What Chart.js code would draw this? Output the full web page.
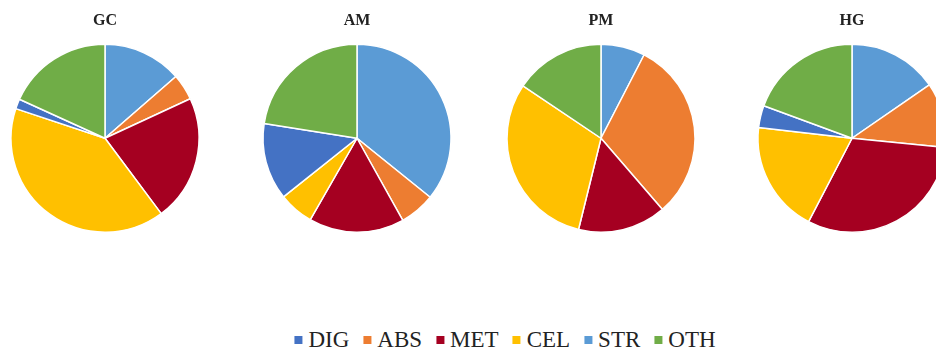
<!DOCTYPE html>
<html>
<head>
<meta charset="utf-8">
<script src="https://cdn.jsdelivr.net/npm/chart.js@4/dist/chart.umd.min.js"></script>
<style>
  html, body { margin: 0; padding: 0; background: #fff; }
  body { width: 936px; height: 351px; position: relative; overflow: hidden; }
  canvas.pie { position: absolute; top: 0; }
  #legend {
    position: absolute; top: 328px; left: 505px; transform: translateX(-50%);
    display: flex; align-items: center; white-space: nowrap;
    font-family: "Liberation Serif", "Times New Roman", serif; font-size: 23px; line-height: 23px; color: #222;
  }
  #legend .item { display: flex; align-items: center; margin-right: 14px; }
  #legend .item:last-child { margin-right: 0; }
  #legend .box { width: 8px; height: 8px; margin-right: 6px; }
</style>
</head>
<body>
<canvas class="pie" id="pie0" width="210" height="233" style="left:0px"></canvas>
<canvas class="pie" id="pie1" width="210" height="233" style="left:252px"></canvas>
<canvas class="pie" id="pie2" width="210" height="233" style="left:496px"></canvas>
<canvas class="pie" id="pie3" width="210" height="233" style="left:747px"></canvas>
<div id="legend"></div>
<script>
// categories, in legend order
var categories = ["DIG", "ABS", "MET", "CEL", "STR", "OTH"];
var colors = ["#4472C4", "#ED7D31", "#A50021", "#FFC000", "#5B9BD5", "#70AD47"];
// slices go clockwise from the top in this order
var drawOrder = ["STR", "ABS", "MET", "CEL", "DIG", "OTH"];

var groups = ["GC", "AM", "PM", "HG"];
// shares (%) per group, legend order
var gcValues = [1.7, 4.5, 21.7, 40.3, 13.6, 18.2];
var amValues = [13.2, 6.1, 16.4, 6.0, 35.8, 22.5];
var pmValues = [0, 31.1, 15.2, 30.6, 7.6, 15.6];
var hgValues = [3.8, 11.2, 31.1, 19.2, 15.4, 19.4];
var groupValues = [gcValues, amValues, pmValues, hgValues];

Chart.defaults.font.family = "'Liberation Serif', 'Times New Roman', serif";

function makePie(idx) {
    var vals = groupValues[idx];
    var data = [], bg = [], lab = [];
    for (var name of drawOrder) {
        var i = categories.indexOf(name);
        lab.push(name);
        data.push(vals[i]);
        bg.push(colors[i]);
    }
    new Chart(document.getElementById("pie" + idx), {
        type: "pie",
        data: {
            labels: lab,
            datasets: [{ data: data, backgroundColor: bg, borderColor: "#fff", borderWidth: 1.5 }]
        },
        options: {
            responsive: false,
            animation: false,
            layout: { padding: 0 },
            plugins: {
                legend: { display: false },
                tooltip: { enabled: false },
                title: {
                    display: true,
                    text: groups[idx],
                    color: "#222",
                    font: { size: 16, weight: "bold" },
                    padding: { top: 11, bottom: 13.3 }
                }
            }
        }
    });
}

for (var g = 0; g < groups.length; g++) makePie(g);

// shared legend under the pies
var legend = document.getElementById("legend");
for (var k = 0; k < categories.length; k++) {
    var it = document.createElement("span");
    it.className = "item";
    var b = document.createElement("span");
    b.className = "box";
    b.style.background = colors[k];
    var t = document.createElement("span");
    t.innerText = categories[k];
    it.append(b, t);
    legend.append(it);
}
</script>
</body>
</html>
